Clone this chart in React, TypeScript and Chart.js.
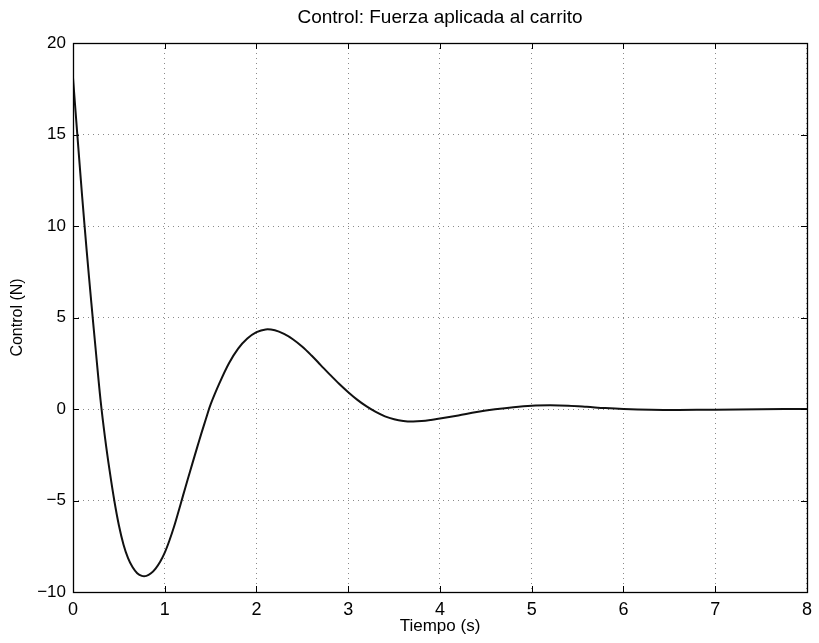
import React, { useEffect, useRef } from "react";
import { Chart, registerables } from "chart.js";

Chart.register(...registerables);

const titleText = "Control: Fuerza aplicada al carrito";
const xLabel = "Tiempo (s)";
const yLabel = "Control (N)";

const timeS = [
  0, 0.05, 0.1, 0.15, 0.2, 0.25, 0.3, 0.35, 0.4, 0.45, 0.5, 0.55, 0.6, 0.65, 0.7, 0.75,
  0.8, 0.85, 0.9, 0.95, 1.0, 1.05, 1.1, 1.15, 1.2, 1.25, 1.3, 1.35, 1.4, 1.45, 1.5,
  1.6, 1.7, 1.8, 1.9, 2.0, 2.1, 2.2, 2.3, 2.4, 2.5, 2.6, 2.7, 2.8, 2.9, 3.0,
  3.1, 3.2, 3.3, 3.4, 3.5, 3.6, 3.7, 3.8, 3.9, 4.0,
  4.2, 4.4, 4.6, 4.8, 5.0, 5.2, 5.4, 5.6, 5.8, 6.0, 6.3, 6.6, 7.0, 7.5, 8.0,
];

const controlN = [
  18.1, 14.8, 11.6, 8.6, 5.8, 3.1, 0.5, -1.6, -3.4, -5.0, -6.35, -7.4, -8.15, -8.65, -8.97, -9.12,
  -9.12, -8.98, -8.72, -8.35, -7.85, -7.2, -6.45, -5.6, -4.72, -3.85, -3.0, -2.15, -1.32, -0.52, 0.25,
  1.45, 2.5, 3.3, 3.85, 4.2, 4.35, 4.3, 4.1, 3.8, 3.4, 2.92, 2.4, 1.88, 1.38, 0.92,
  0.5, 0.14, -0.16, -0.4, -0.56, -0.65, -0.68, -0.66, -0.6, -0.52,
  -0.35, -0.17, -0.02, 0.1, 0.18, 0.2, 0.18, 0.12, 0.05, 0.0, -0.04, -0.05, -0.04, -0.01, 0.0,
];

const xTicks = [0, 1, 2, 3, 4, 5, 6, 7, 8];
const yTicks = [-10, -5, 0, 5, 10, 15, 20];

const FONT = "'Liberation Sans', Arial, Helvetica, sans-serif";

const frameTicks = {
  id: "frameTicks",
  afterDatasetsDraw(chart: any) {
    const { ctx, chartArea, scales } = chart;
    const { left, right, top, bottom } = chartArea;
    const len = 6;
    ctx.save();
    ctx.strokeStyle = "#000";
    ctx.lineWidth = 1;
    ctx.setLineDash([]);
    ctx.beginPath();
    xTicks.forEach((v) => {
      const px = Math.round(scales.x.getPixelForValue(v)) + 0.5;
      ctx.moveTo(px, bottom);
      ctx.lineTo(px, bottom - len);
      ctx.moveTo(px, top);
      ctx.lineTo(px, top + len);
    });
    yTicks.forEach((v) => {
      const py = Math.round(scales.y.getPixelForValue(v)) + 0.5;
      ctx.moveTo(left, py);
      ctx.lineTo(left + len, py);
      ctx.moveTo(right, py);
      ctx.lineTo(right - len, py);
    });
    ctx.stroke();
    ctx.lineWidth = 1.3;
    ctx.strokeRect(left + 0.5, top + 0.5, right - left, bottom - top);
    ctx.restore();
  },
};

const minusFmt = (v: any) => String(v).replace("-", "\u2212");

export default function App() {
  const canvasRef = useRef<HTMLCanvasElement | null>(null);

  useEffect(() => {
    if (!canvasRef.current) return;
    const points = timeS.map((t, i) => ({ x: t, y: controlN[i] }));
    const chart = new Chart(canvasRef.current, {
      type: "line",
      data: {
        datasets: [
          {
            data: points,
            borderColor: "#111",
            borderWidth: 2,
            pointRadius: 0,
            fill: false,
            tension: 0.35,
          },
        ],
      },
      options: {
        responsive: false,
        animation: false,
        layout: { padding: { left: 0, right: 12, top: 0, bottom: 0 } },
        plugins: {
          legend: { display: false },
          tooltip: { enabled: false },
          title: {
            display: true,
            text: titleText,
            color: "#000",
            fullSize: false,
            font: { family: FONT, size: 19, weight: "normal" },
            padding: { top: 6, bottom: 14.2 },
          },
        },
        scales: {
          x: {
            type: "linear",
            min: 0,
            max: 8,
            afterFit: (s: any) => {
              s.height = 51;
            },
            afterBuildTicks: (s: any) => {
              s.ticks = xTicks.map((v) => ({ value: v }));
            },
            ticks: {
              color: "#000",
              font: { family: FONT, size: 18 },
              padding: 7,
              maxRotation: 0,
              callback: minusFmt,
            },
            grid: { color: "#8a8a8a", drawTicks: false, lineWidth: 1 },
            border: { display: false, dash: [1, 4] },
            title: {
              display: true,
              text: xLabel,
              color: "#000",
              font: { family: FONT, size: 17 },
              padding: { top: 0, bottom: 6 },
            },
          },
          y: {
            type: "linear",
            min: -10,
            max: 20,
            afterFit: (s: any) => {
              s.width = 73;
            },
            afterBuildTicks: (s: any) => {
              s.ticks = yTicks.map((v) => ({ value: v }));
            },
            ticks: {
              color: "#000",
              font: { family: FONT, size: 17 },
              padding: 7,
              callback: minusFmt,
            },
            grid: { color: "#8a8a8a", drawTicks: false, lineWidth: 1 },
            border: { display: false, dash: [1, 4] },
            title: {
              display: true,
              text: yLabel,
              color: "#000",
              font: { family: FONT, size: 16 },
              padding: { top: 8, bottom: 0 },
            },
          },
        },
      },
      plugins: [frameTicks],
    });
    return () => chart.destroy();
  }, []);

  return (
    <div style={{ position: "absolute", left: 0, top: 0, width: 819, height: 643, background: "#fff" }}>
      <canvas ref={canvasRef} width={819} height={643} />
    </div>
  );
}
